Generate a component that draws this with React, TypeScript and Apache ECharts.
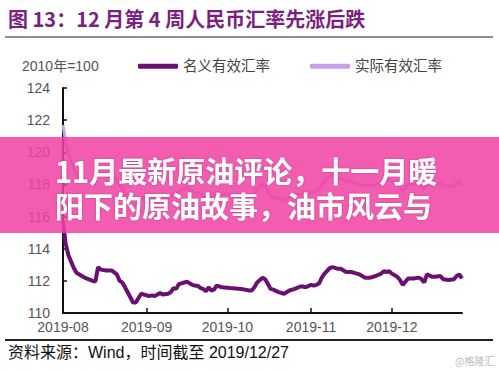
import React, { useEffect, useRef } from "react";
import * as echarts from "echarts";

const dates = [
  "2019-08-01","2019-08-02","2019-08-03","2019-08-05","2019-08-06","2019-08-08","2019-08-09","2019-08-12","2019-08-13","2019-08-14",
  "2019-08-15","2019-08-17","2019-08-19","2019-08-21","2019-08-22","2019-08-23","2019-08-24","2019-08-27","2019-08-28","2019-08-30",
  "2019-09-02","2019-09-03","2019-09-04","2019-09-06","2019-09-07","2019-09-09","2019-09-10","2019-09-11","2019-09-12","2019-09-13",
  "2019-09-15","2019-09-16","2019-09-18","2019-09-19","2019-09-20","2019-09-21","2019-09-22","2019-09-23","2019-09-24","2019-09-25",
  "2019-09-26","2019-09-27","2019-09-29","2019-10-02","2019-10-06","2019-10-09","2019-10-10","2019-10-11","2019-10-12","2019-10-14",
  "2019-10-15","2019-10-16","2019-10-17","2019-10-18","2019-10-20","2019-10-22","2019-10-24","2019-10-26","2019-10-28","2019-10-29",
  "2019-10-30","2019-11-01","2019-11-02","2019-11-03","2019-11-04","2019-11-05","2019-11-06","2019-11-08","2019-11-09","2019-11-11",
  "2019-11-12","2019-11-14","2019-11-16","2019-11-17","2019-11-19","2019-11-21","2019-11-23","2019-11-25","2019-11-27","2019-11-28",
  "2019-11-29","2019-11-30","2019-12-01","2019-12-03","2019-12-04","2019-12-05","2019-12-06","2019-12-07","2019-12-09","2019-12-11",
  "2019-12-12","2019-12-13","2019-12-14","2019-12-16","2019-12-17","2019-12-19","2019-12-20","2019-12-22","2019-12-24","2019-12-25",
  "2019-12-26","2019-12-27"
];

const nominal = [
  115.7,114.3,113.6,112.8,112.5,112.3,112.2,112.0,111.95,112.85,
  112.7,112.65,112.65,112.4,112.0,111.9,111.6,110.65,110.65,111.2,
  111.05,111.1,111.05,111.25,111.15,111.2,111.3,111.55,111.5,111.8,
  111.9,111.95,111.75,111.7,111.7,111.55,111.5,111.35,111.6,111.4,
  111.45,111.7,111.6,111.55,111.5,111.4,111.4,111.6,111.9,112.2,
  112.1,111.8,111.5,111.45,111.3,111.2,111.4,111.5,111.65,111.65,
  111.6,111.75,111.7,111.75,111.85,112.2,112.45,112.8,112.85,112.75,
  112.75,112.55,112.55,112.5,112.4,112.2,112.2,112.3,112.45,112.6,
  112.55,112.6,112.45,112.25,112.05,111.75,111.95,112.15,112.15,112.2,
  112.1,111.9,112.4,112.25,112.25,112.3,112.1,112.05,112.1,112.3,
  112.4,112.15
];

const real = [
  121.7,120.6,119.9,119.0,118.6,118.4,118.3,118.1,118.0,118.7,
  118.6,118.5,118.5,118.3,117.9,117.8,117.5,116.7,116.7,117.2,
  117.0,117.1,117.0,117.2,117.1,117.1,117.2,117.4,117.4,117.6,
  117.7,117.8,117.6,117.5,117.5,117.4,117.3,117.2,117.4,117.3,
  117.3,117.5,117.4,117.4,117.3,117.2,117.2,117.4,117.7,118.0,
  117.9,117.6,117.3,117.2,117.1,117.0,117.2,117.3,117.4,117.5,
  117.4,117.5,117.5,117.6,117.7,118.0,118.2,118.5,118.6,118.4,
  118.4,118.2,118.2,118.1,118.0,117.9,117.9,118.0,118.1,118.3,
  118.2,118.3,118.2,118.0,117.8,117.6,117.8,118.0,118.0,118.0,
  117.9,117.7,118.2,118.0,118.0,118.1,117.9,117.9,117.9,118.1,
  118.2,117.9
];

const monthTicks = ["2019-08-01", "2019-09-01", "2019-10-01", "2019-11-01", "2019-12-01"];
const seriesNames = ["名义有效汇率", "实际有效汇率"];
const titleText = "图 13：12 月第 4 周人民币汇率先涨后跌";
const unitText = "2010年=100";
const sourceText = "资料来源：Wind，时间截至 2019/12/27";
const bannerLines = ["11月最新原油评论，十一月暖", "阳下的原油故事，油市风云与"];
const watermark = "@格隆汇";

const toTs = (s: string) => {
  const [y, m, d] = s.split("-").map(Number);
  return new Date(y, m - 1, d).getTime();
};

const FONT = "'Liberation Sans', 'Noto Sans CJK SC', sans-serif";

export default function App() {
  const ref = useRef<HTMLDivElement>(null);
  useEffect(() => {
    if (!ref.current) return;
    const chart = echarts.init(ref.current, undefined, { renderer: "svg" });
    const tickVals = monthTicks.map(toTs);
    chart.setOption({
      animation: false,
      backgroundColor: "#ffffff",
      textStyle: { fontFamily: FONT },
      grid: { left: 63, right: 37, top: 88, bottom: 57, containLabel: false },
      legend: {
        left: 133,
        top: 54,
        itemWidth: 40,
        itemHeight: 5,
        itemGap: 40,
        icon: "roundRect",
        textStyle: { fontSize: 14.5, color: "#444", fontFamily: FONT },
        data: [{ name: seriesNames[0] }, { name: seriesNames[1] }],
      },
      xAxis: {
        type: "value",
        min: toTs("2019-08-01"),
        max: toTs("2019-12-27"),
        axisLine: { show: true, lineStyle: { color: "#111", width: 2 } },
        axisTick: {
          show: true,
          inside: true,
          length: 5,
          customValues: tickVals,
          lineStyle: { color: "#111", width: 1.5 },
        },
        axisLabel: {
          customValues: tickVals,
          margin: 7,
          fontSize: 14,
          color: "#555",
          fontFamily: FONT,
          formatter: (v: number) => {
            const d = new Date(v);
            const m = d.getMonth() + 1;
            return d.getFullYear() + "-" + (m < 10 ? "0" + m : "" + m);
          },
        },
        splitLine: { show: false },
      },
      yAxis: {
        type: "value",
        min: 110,
        max: 124,
        interval: 2,
        axisLine: { show: true, lineStyle: { color: "#111", width: 2 } },
        axisTick: { show: true, inside: true, length: 4, lineStyle: { color: "#111", width: 1.5 } },
        axisLabel: { margin: 13, fontSize: 14, color: "#555", fontFamily: FONT },
        splitLine: { show: false },
      },
      series: [
        {
          name: seriesNames[1],
          type: "line",
          showSymbol: false,
          symbol: "none",
          data: dates.map((d, i) => [toTs(d), real[i]]),
          lineStyle: { color: "#c9a0e8", width: 3 },
          itemStyle: { color: "#c9a0e8" },
          z: 2,
        },
        {
          name: seriesNames[0],
          type: "line",
          showSymbol: false,
          symbol: "none",
          data: dates.map((d, i) => [toTs(d), nominal[i]]),
          lineStyle: { color: "#6a1070", width: 4 },
          itemStyle: { color: "#6a1070" },
          z: 3,
        },
      ],
      graphic: [
        {
          type: "text",
          left: 8,
          top: 8,
          style: {
            text: titleText,
            fill: "#7b1f80",
            font: "bold 20px 'Noto Sans CJK SC', sans-serif",
          },
        },
        {
          type: "line",
          shape: { x1: 5, y1: 37, x2: 493, y2: 37 },
          style: { stroke: "#222", lineWidth: 1.2 },
        },
        {
          type: "text",
          left: 22,
          top: 59,
          style: { text: unitText, fill: "#555", font: "14px " + FONT },
        },
        {
          type: "line",
          shape: { x1: 5, y1: 340, x2: 493, y2: 340 },
          style: { stroke: "#222", lineWidth: 2 },
        },
        {
          type: "text",
          left: 8,
          top: 344,
          style: { text: sourceText, fill: "#111", font: "16px " + FONT },
        },
        {
          type: "text",
          left: 455,
          top: 355,
          style: { text: watermark, fill: "#bbb", font: "10px 'Noto Sans CJK SC', sans-serif" },
        },
        {
          type: "rect",
          z: 100,
          shape: { x: 0, y: 137, width: 499, height: 96 },
          style: { fill: "rgba(240, 66, 164, 0.86)" },
        },
        {
          type: "text",
          z: 101,
          x: 55,
          y: 187.5,
          style: {
            text: bannerLines.join("\n"),
            fill: "#ffffff",
            font: "bold 29px 'Noto Sans CJK SC', sans-serif",
            lineHeight: 35,
            verticalAlign: "middle",
            textShadowColor: "rgba(0,0,0,0.25)",
            textShadowBlur: 2,
          },
        },
      ],
    });
    return () => chart.dispose();
  }, []);
  return (
    <div
      ref={ref}
      style={{ position: "absolute", left: 0, top: 0, width: 499, height: 370, background: "#fff" }}
    />
  );
}
